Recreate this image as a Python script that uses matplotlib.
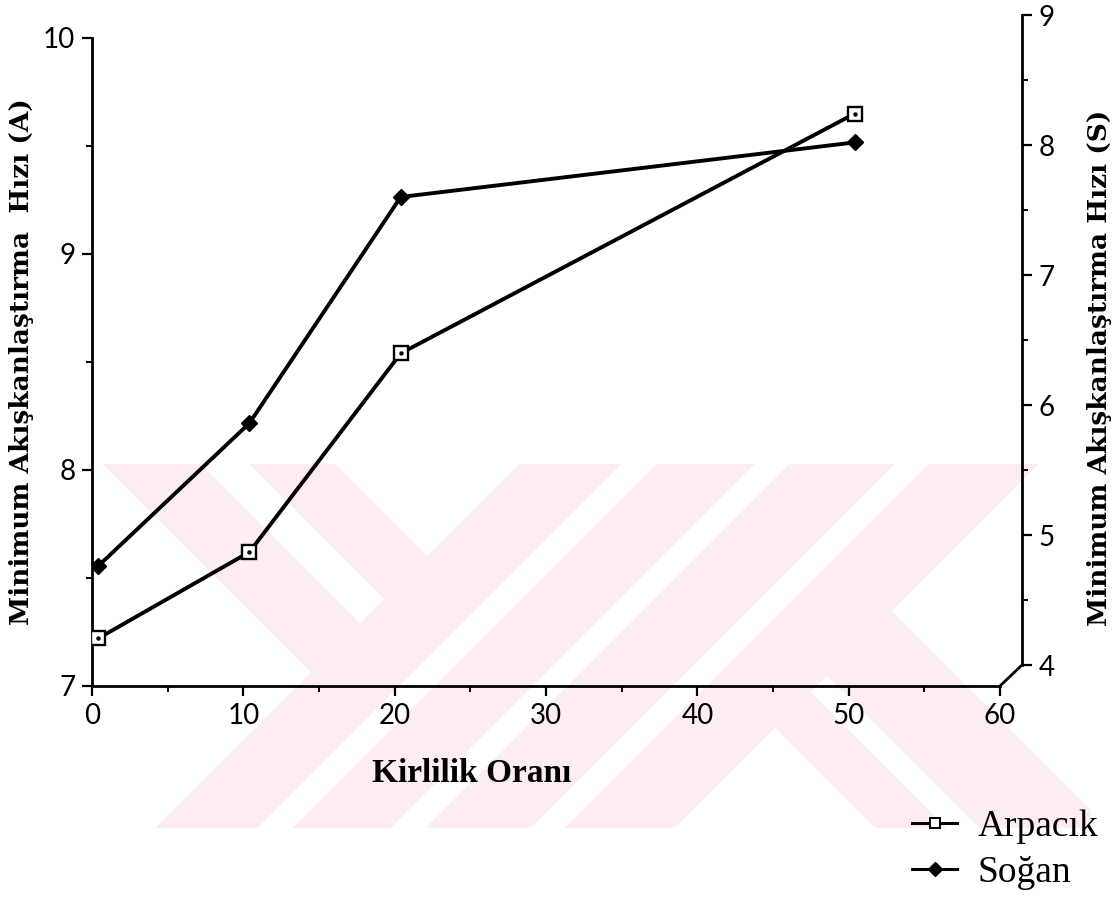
import matplotlib
matplotlib.use("Agg")
import matplotlib.pyplot as plt
import numpy as np
from matplotlib.lines import Line2D
from matplotlib.patches import ConnectionPatch
from matplotlib.ticker import MultipleLocator

# data
kirlilik = [0.4, 10.4, 20.4, 50.4]
arpacik = [7.22, 7.62, 8.54, 9.65]     # left axis (A)
sogan = [4.76, 5.86, 7.60, 8.02]       # right axis (S)

x_ticks = [0, 10, 20, 30, 40, 50, 60]
left_ticks = [7, 8, 9, 10]
right_ticks = [4, 5, 6, 7, 8, 9]

W, H = 1119, 900
fig = plt.figure(figsize=(W / 100, H / 100), dpi=100)

# faint thesis-centre watermark behind everything
bg = fig.add_axes([0, 0, 1, 1], zorder=-5)
X, Y = np.meshgrid(np.arange(W), np.arange(H))
s = X + Y
d = X - Y
rect = (X >= 103) & (X <= 1090) & (Y >= 464) & (Y <= 827)
slash = (s >= 983) & (s <= 1501)
for lo, hi in [(1084, 1120), (1217, 1253), (1357, 1392)]:
    slash &= ~((s > lo) & (s < hi))
back = (d >= -361) & (d <= -129) & (s < 983) & ~((d > -264) & (d < -214))
karm = (d >= 48) & (d <= 280) & (s > 1501) & ~((d > 118) & (d < 152))
mask = rect & (slash | back | karm)
img = np.ones((H, W, 3))
img[mask] = np.array([253, 236, 240]) / 255
bg.imshow(img, extent=(0, W, H, 0), aspect="auto", interpolation="nearest")
bg.axis("off")

tick_font = {"family": "Lato", "size": 20}

# main axes (Arpacık)
ax = fig.add_axes([92 / W, 1 - 686 / H, 908 / W, (686 - 38) / H])
ax.patch.set_alpha(0)
ax.set_xlim(0, 60)
ax.set_ylim(7, 10)
ax.set_xticks(x_ticks)
ax.set_yticks(left_ticks)
ax.xaxis.set_minor_locator(MultipleLocator(5))
ax.yaxis.set_minor_locator(MultipleLocator(0.5))
for sp in ["top", "right"]:
    ax.spines[sp].set_visible(False)
for sp in ["left", "bottom"]:
    ax.spines[sp].set_linewidth(2.0)
ax.tick_params(which="major", direction="out", length=7, width=1.6, pad=5)
ax.tick_params(which="minor", direction="out", length=4, width=1.4)
for lab in ax.get_xticklabels() + ax.get_yticklabels():
    lab.set_fontfamily(tick_font["family"])
    lab.set_fontsize(tick_font["size"])

ax.plot(kirlilik, arpacik, color="black", lw=2.8, marker="s", ms=9.5,
        mfc="white", mec="black", mew=1.7, zorder=3)
ax.plot(kirlilik, arpacik, ls="none", marker="o", ms=2.2, color="black", zorder=4)

# right axes (Soğan), offset upward like the original
x_right = 1022
ax2 = fig.add_axes([92 / W, 1 - 665 / H, (x_right - 92) / W, (665 - 15) / H])
ax2.patch.set_alpha(0)
ax2.set_xlim(0, 60 * (x_right - 92) / 908)
ax2.set_ylim(4, 9)
for sp in ["top", "left", "bottom"]:
    ax2.spines[sp].set_visible(False)
ax2.spines["right"].set_linewidth(2.0)
ax2.set_xticks([])
ax2.yaxis.tick_right()
ax2.set_yticks(right_ticks)
ax2.yaxis.set_minor_locator(MultipleLocator(0.5))
ax2.tick_params(which="major", direction="out", length=7, width=1.6, pad=5)
ax2.tick_params(which="minor", direction="out", length=4, width=1.4)
for lab in ax2.get_yticklabels():
    lab.set_fontfamily(tick_font["family"])
    lab.set_fontsize(tick_font["size"])

ax2.plot(kirlilik, sogan, color="black", lw=2.8, marker="D", ms=8,
         mfc="black", mec="black", zorder=3)

# diagonal link between the x axis end and the raised right axis
link = ConnectionPatch(xyA=(1, 0), coordsA="axes fraction", axesA=ax,
                       xyB=(1, 0), coordsB="axes fraction", axesB=ax2,
                       color="black", lw=2.0)
fig.add_artist(link)

# axis titles
label_font = {"family": "DejaVu Serif", "weight": "bold", "size": 19}
fig.text(22 / W, 1 - 362 / H, "Minimum Akışkanlaştırma  Hızı (A)",
         rotation=90, ha="center", va="center", **label_font)
fig.text(1099 / W, 1 - 368 / H, "Minimum Akışkanlaştırma Hızı (S)",
         rotation=90, ha="center", va="center", **label_font)
fig.text(472 / W, 1 - 773 / H, "Kirlilik Oranı", ha="center", va="center",
         family="Liberation Serif", weight="bold", size=24)

# legend
handles = [
    Line2D([], [], color="black", lw=2.2, marker="s", ms=7, mfc="white", mew=1.4),
    Line2D([], [], color="black", lw=2.2, marker="D", ms=7, mfc="black"),
]
fig.legend(handles, ["Arpacık", "Soğan"], loc="upper left",
           bbox_to_anchor=(912 / W, 1 - 810 / H), frameon=False,
           prop={"family": "Liberation Serif", "size": 27},
           handlelength=1.2, handletextpad=0.55, labelspacing=0.3,
           borderpad=0, borderaxespad=0)

fig.savefig("out.png", dpi=100)
